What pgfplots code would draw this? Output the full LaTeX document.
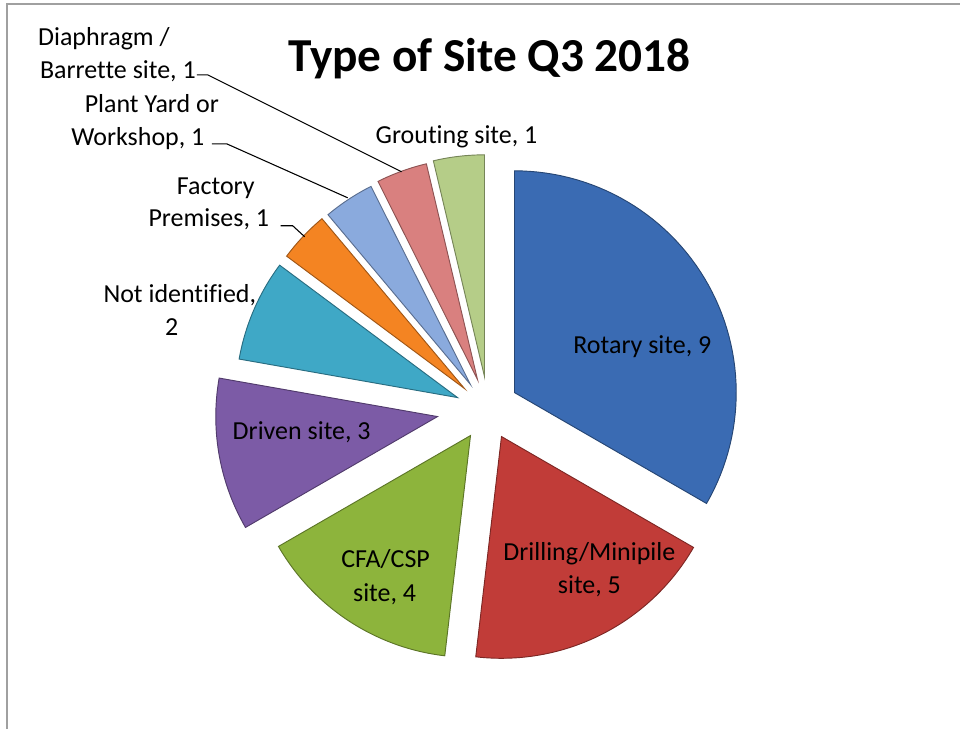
\documentclass[border=0pt]{standalone}
\usepackage{pgfplots}
\pgfplotsset{compat=1.18}
\usepackage{fontspec}
\setmainfont{Carlito}[Ligatures=NoCommon]

\definecolor{cRot}{HTML}{3A6BB3}
\definecolor{cDri}{HTML}{C13C38}
\definecolor{cCfa}{HTML}{8DB43C}
\definecolor{cDrv}{HTML}{7C5BA6}
\definecolor{cNid}{HTML}{3FA8C6}
\definecolor{cFac}{HTML}{F48422}
\definecolor{cPla}{HTML}{8AAADD}
\definecolor{cDia}{HTML}{D9807F}
\definecolor{cGro}{HTML}{B5CD88}
\definecolor{frame}{HTML}{A0A0A0}

% pie radius (px) and total of all values
\def\R{222}
\def\total{27}
\def\cum{0}
% #1 value, #2/#3 apex of the exploded slice, #4 colour
\newcommand\slice[4]{%
  \pgfmathsetmacro\angA{90-360*(\cum+#1)/\total}%
  \pgfmathsetmacro\angB{90-360*\cum/\total}%
  \pgfmathsetmacro\newcum{\cum+#1}\xdef\cum{\newcum}%
  \edef\doslice{\noexpand\addplot[fill=#4, draw=#4!65!black, line width=0.7pt,
      domain=\angA:\angB, samples=60, variable=\noexpand\t]
    ({#2+\R*cos(\noexpand\t)},{#3+\R*sin(\noexpand\t)}) -- (axis cs:#2,#3) -- cycle;}%
  \doslice
}

\begin{document}
\begin{tikzpicture}
\begin{axis}[x=0.75pt, y=0.75pt, xmin=0, xmax=961, ymin=0, ymax=730,
  hide axis, clip=false]
\path (axis cs:0,0) rectangle (axis cs:961,730);
\draw[frame, line width=1.5pt] (axis cs:7,0) -- (axis cs:7,726) -- (axis cs:961,726);

\slice{9}{515}{337}{cRot}  % Rotary site
\slice{5}{502}{293}{cDri}  % Drilling/Minipile site
\slice{4}{471}{294}{cCfa}  % CFA/CSP site
\slice{3}{438}{313}{cDrv}  % Driven site
\slice{2}{458}{332}{cNid}  % Not identified
\slice{1}{465}{341}{cFac}  % Factory Premises
\slice{1}{471}{345}{cPla}  % Plant Yard or Workshop
\slice{1}{478}{350}{cDia}  % Diaphragm / Barrette site
\slice{1}{485}{353}{cGro}  % Grouting site

% leader lines
\draw[black, line width=0.8pt] (axis cs:197,655) -- (axis cs:208,655) -- (axis cs:402,558);
\draw[black, line width=0.8pt] (axis cs:212,586) -- (axis cs:227,586) -- (axis cs:348,532);
\draw[black, line width=0.8pt] (axis cs:281,504) -- (axis cs:293,504) -- (axis cs:305,493);

\node[anchor=base, font=\fontsize{35.5}{40}\selectfont\bfseries] at (axis cs:490,658) {Type of Site Q3 2018};

\begin{scope}[every node/.style={anchor=base, font=\fontsize{19.5}{24}\selectfont, inner sep=0pt}]
\node at (axis cs:104,684) {Diaphragm /};
\node at (axis cs:118,651) {Barrette site, 1};
\node at (axis cs:152,617) {Plant Yard or};
\node at (axis cs:138,584) {Workshop, 1};
\node at (axis cs:457,586) {Grouting site, 1};
\node at (axis cs:216,535) {Factory};
\node at (axis cs:209,503) {Premises, 1};
\node at (axis cs:180,427) {Not identified,};
\node at (axis cs:172,394) {2};
\node at (axis cs:302,290) {Driven site, 3};
\node at (axis cs:386,162) {CFA/CSP};
\node at (axis cs:385,128) {site, 4};
\node at (axis cs:590,169) {Drilling/Minipile};
\node at (axis cs:590,136) {site, 5};
\node at (axis cs:643,376) {Rotary site, 9};
\end{scope}
\end{axis}
\end{tikzpicture}
\end{document}
